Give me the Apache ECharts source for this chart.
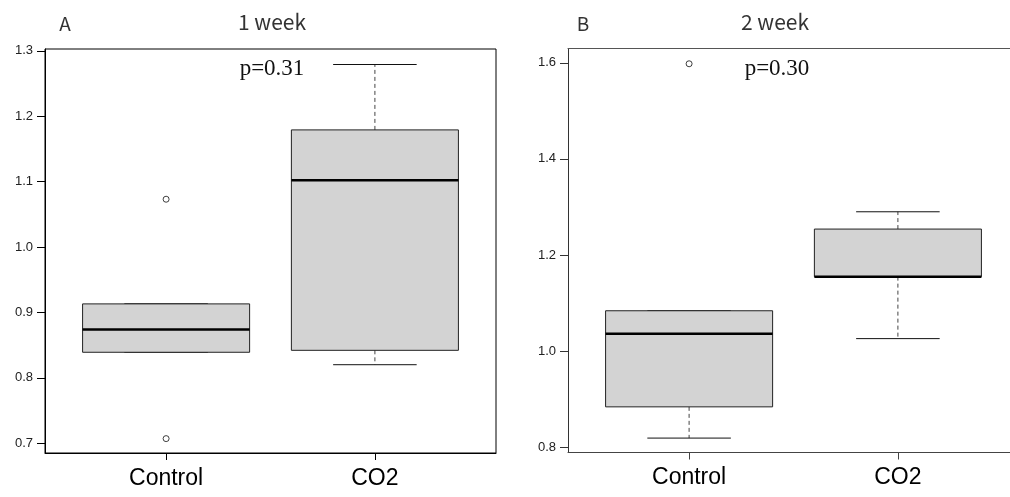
<!DOCTYPE html>
<html>
<head>
<meta charset="utf-8">
<script src="https://cdn.jsdelivr.net/npm/echarts@6/dist/echarts.min.js"></script>
<style>
  html, body { margin: 0; padding: 0; background: #fff; }
  #chart { width: 1010px; height: 497px; }
</style>
</head>
<body>
<div id="chart"></div>
<script>
// groups on the x axis
var groups = ['Control', 'CO2'];

// panel A (1 week): [low whisker, Q1, median, Q3, high whisker]
var week1Box = [
  [0.839, 0.839, 0.874, 0.913, 0.913],
  [0.820, 0.842, 1.102, 1.179, 1.279]
];
var week1Outliers = [[1, 1.073], [1, 0.707]];
var week1Ticks = [0.7, 0.8, 0.9, 1.0, 1.1, 1.2, 1.3];

// panel B (2 week)
var week2Box = [
  [0.819, 0.884, 1.036, 1.084, 1.084],
  [1.026, 1.155, 1.155, 1.254, 1.290]
];
var week2Outliers = [[1, 1.598]];
var week2Ticks = [0.8, 1.0, 1.2, 1.4, 1.6];

var chart = echarts.init(document.getElementById('chart'));

// draws one R-style box: dashed whiskers, solid caps, thick median
function renderBox(params, api) {
  var x = api.value(0);
  var low = api.coord([x, api.value(1)]);
  var q1 = api.coord([x, api.value(2)]);
  var med = api.coord([x, api.value(3)]);
  var q3 = api.coord([x, api.value(4)]);
  var high = api.coord([x, api.value(5)]);
  var boxW = api.size([0.8, 0])[0];
  var capW = api.size([0.4, 0])[0];
  var cx = low[0];
  var dash = { stroke: '#444', lineWidth: 1, lineDash: [4, 3] };
  var solid = { stroke: '#111', lineWidth: 1 };
  return {
    type: 'group',
    children: [
      { type: 'line', shape: { x1: cx, y1: q3[1], x2: cx, y2: high[1] }, style: dash },
      { type: 'line', shape: { x1: cx, y1: q1[1], x2: cx, y2: low[1] }, style: dash },
      { type: 'line', shape: { x1: cx - capW / 2, y1: high[1], x2: cx + capW / 2, y2: high[1] }, style: solid },
      { type: 'line', shape: { x1: cx - capW / 2, y1: low[1], x2: cx + capW / 2, y2: low[1] }, style: solid },
      { type: 'rect', shape: { x: cx - boxW / 2, y: q3[1], width: boxW, height: q1[1] - q3[1] },
        style: { fill: '#d3d3d3', stroke: '#222', lineWidth: 1 } },
      { type: 'line', shape: { x1: cx - boxW / 2, y1: med[1], x2: cx + boxW / 2, y2: med[1] },
        style: { stroke: '#000', lineWidth: 2.5 } }
    ]
  };
}

function xAxisFor(idx, color) {
  return {
    type: 'value', gridIndex: idx, min: 0.42, max: 2.58,
    axisLine: { show: true, lineStyle: { color: color } },
    axisTick: { show: true, length: 7, customValues: [1, 2], lineStyle: { color: color } },
    axisLabel: {
      customValues: [1, 2], margin: 14, color: '#000', fontSize: 23,
      fontFamily: 'Liberation Sans',
      formatter: function (v) { return groups[Math.round(v) - 1]; }
    },
    splitLine: { show: false }
  };
}

// plain top edge of a panel frame
function topEdgeFor(idx, color) {
  return {
    type: 'value', gridIndex: idx, position: 'top', min: 0.42, max: 2.58,
    axisLine: { show: true, onZero: false, lineStyle: { color: color } },
    axisTick: { show: false }, axisLabel: { show: false }, splitLine: { show: false }
  };
}

function yAxisFor(idx, min, max, ticks, color) {
  return {
    type: 'value', gridIndex: idx, min: min, max: max,
    axisLine: { show: true, lineStyle: { color: color } },
    axisTick: { show: true, length: 8, customValues: ticks, lineStyle: { color: color } },
    axisLabel: {
      customValues: ticks, margin: 12, color: '#222', fontSize: 13,
      fontFamily: 'Liberation Sans',
      formatter: function (v) { return v.toFixed(1); }
    },
    splitLine: { show: false }
  };
}

function boxData(rows) {
  return rows.map(function (r, i) { return [i + 1].concat(r); });
}

var outlierStyle = { color: '#fff', borderColor: '#111', borderWidth: 1 };
var titleFont = { fontFamily: 'Noto Sans CJK JP', fill: '#333', align: 'center', verticalAlign: 'middle' };
var pFont = { fontFamily: 'Liberation Serif', fill: '#111', fontSize: 23, align: 'center', verticalAlign: 'middle' };

var option = {
  backgroundColor: '#fff',
  animation: false,
  grid: [
    { left: 45, top: 49, width: 451, height: 404, show: true, borderColor: '#000', borderWidth: 1,
      outerBoundsMode: 'none', containLabel: false },
    { left: 568, top: 48.5, width: 451, height: 404, show: false,
      outerBoundsMode: 'none', containLabel: false }
  ],
  xAxis: [xAxisFor(0, '#000'), xAxisFor(1, '#444'), topEdgeFor(1, '#555')],
  yAxis: [
    yAxisFor(0, 0.685, 1.3027, week1Ticks, '#000'),
    yAxisFor(1, 0.789, 1.6298, week2Ticks, '#333')
  ],
  series: [
    { type: 'custom', xAxisIndex: 0, yAxisIndex: 0, renderItem: renderBox,
      encode: { x: 0, y: [1, 2, 3, 4, 5] }, data: boxData(week1Box) },
    { type: 'scatter', xAxisIndex: 0, yAxisIndex: 0, symbol: 'circle', symbolSize: 6,
      itemStyle: outlierStyle, data: week1Outliers },
    { type: 'custom', xAxisIndex: 1, yAxisIndex: 1, renderItem: renderBox,
      encode: { x: 0, y: [1, 2, 3, 4, 5] }, data: boxData(week2Box) },
    { type: 'scatter', xAxisIndex: 1, yAxisIndex: 1, symbol: 'circle', symbolSize: 6,
      itemStyle: outlierStyle, data: week2Outliers }
  ],
  graphic: [
    { type: 'text', x: 65, y: 24, style: Object.assign({ text: 'A', fontSize: 19 }, titleFont) },
    { type: 'text', x: 272, y: 22, style: Object.assign({ text: '1 week', fontSize: 21 }, titleFont) },
    { type: 'text', x: 272, y: 69, style: Object.assign({ text: 'p=0.31' }, pFont) },
    { type: 'text', x: 583, y: 24, style: Object.assign({ text: 'B', fontSize: 19 }, titleFont) },
    { type: 'text', x: 775, y: 22, style: Object.assign({ text: '2 week', fontSize: 21 }, titleFont) },
    { type: 'text', x: 777, y: 69, style: Object.assign({ text: 'p=0.30' }, pFont) }
  ]
};

chart.setOption(option);
</script>
</body>
</html>
